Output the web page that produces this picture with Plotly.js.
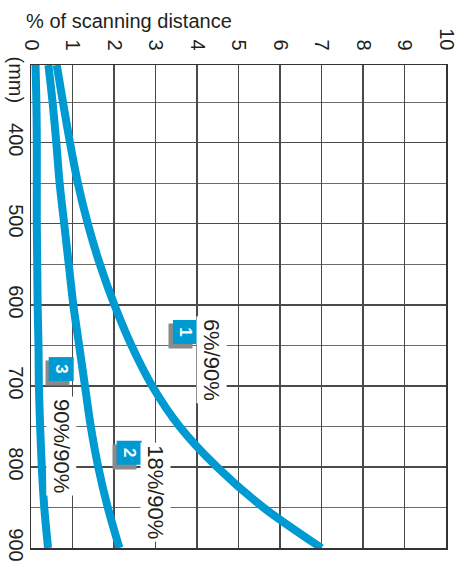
<!DOCTYPE html>
<html>
<head>
<meta charset="utf-8">
<script src="https://cdn.plot.ly/plotly-3.0.1.min.js"></script>
<style>html,body{margin:0;padding:0;background:#fff;}#chart{width:466px;height:571px;}</style>
</head>
<body>
<div id="chart"></div>
<script>
// Scanning distance (mm) on the vertical axis, % of scanning distance on the horizontal axis
var distanceMm = [304, 350, 400, 450, 500, 550, 600, 650, 700, 750, 800, 850, 900];
var curve1 = [0.62, 0.77, 0.94, 1.13, 1.37, 1.66, 2.01, 2.42, 2.92, 3.58, 4.48, 5.60, 7.00]; // 6%/90%
var curve2 = [0.42, 0.52, 0.61, 0.69, 0.80, 0.91, 1.02, 1.16, 1.30, 1.44, 1.62, 1.85, 2.13]; // 18%/90%
var curve3 = [0.11, 0.13, 0.14, 0.14, 0.14, 0.15, 0.16, 0.18, 0.19, 0.22, 0.26, 0.32, 0.41]; // 90%/90%
var seriesNames = ["6%/90%", "18%/90%", "90%/90%"];
var seriesNumbers = ["1", "2", "3"];
var xTickVals = [0, 1, 2, 3, 4, 5, 6, 7, 8, 9, 10];
var xTickText = ["0", "1", "2", "3", "4", "5", "6", "7", "8", "9", "10"];
var yTickVals = [400, 500, 600, 700, 800, 900];
var yTickText = ["400", "500", "600", "700", "800", "900"];

var BLUE = "#009ad2";
var TXT = "#231f20";
var FONT = "Liberation Sans, Arial, sans-serif";

function tr(xs, name) {
  return {
    x: xs, y: distanceMm, mode: "lines", name: name,
    line: {color: BLUE, width: 8, shape: "spline", smoothing: 0.8},
    hoverinfo: "skip"
  };
}
var data = [tr(curve1, seriesNames[0]), tr(curve2, seriesNames[1]), tr(curve3, seriesNames[2])];

// label placement (positions of legend boxes and texts)
var boxPos = [[3.71, 634], [2.36, 783], [0.73, 679]];
var textPos = [[4.34, 668], [3.01, 831], [0.72, 774]];

var ann = [];
for (var i = 0; i < 3; i++) {
  ann.push({x: boxPos[i][0], y: boxPos[i][1], xref: "x", yref: "y", text: " ", showarrow: false,
    width: 21, height: 22, bgcolor: "#8a8a8a", xshift: -4, yshift: -4, font: {size: 12}});
  ann.push({x: boxPos[i][0], y: boxPos[i][1], xref: "x", yref: "y", text: "<b>" + seriesNumbers[i] + "</b>",
    showarrow: false, width: 21, height: 22, bgcolor: BLUE, textangle: 90,
    font: {family: FONT, size: 17, color: "#ffffff"}});
  ann.push({x: textPos[i][0], y: textPos[i][1], xref: "x", yref: "y", text: seriesNames[i],
    showarrow: false, textangle: 90, bgcolor: "#ffffff", borderpad: 2,
    font: {family: FONT, size: 22, color: TXT}});
}
ann.push({x: -0.036, y: 322, xref: "paper", yref: "y", xanchor: "center", yanchor: "middle",
  text: "(mm)", showarrow: false, textangle: 90,
  font: {family: FONT, size: 20, color: TXT}});

var layout = {
  width: 466, height: 571,
  margin: {l: 31, r: 20, t: 65, b: 23, pad: 0},
  paper_bgcolor: "#ffffff", plot_bgcolor: "#ffffff",
  showlegend: false,
  font: {family: FONT, color: TXT, size: 20},
  title: {text: "% of scanning distance", xref: "container", yref: "container",
    x: 0.056, xanchor: "left", y: 0.963, yanchor: "middle",
    font: {family: FONT, size: 20, color: TXT}},
  xaxis: {
    side: "top", range: [0, 10], tickmode: "array", tickvals: xTickVals, ticktext: xTickText,
    tickangle: 90, ticks: "", ticklabelstandoff: 6,
    showgrid: true, gridcolor: "#4a4a4a", gridwidth: 1.3, zeroline: false,
    showline: true, linecolor: "#333", linewidth: 1.5, mirror: true,
    tickfont: {family: FONT, size: 20, color: TXT}
  },
  yaxis: {
    range: [900, 304], tickmode: "array", tickvals: yTickVals, ticktext: yTickText,
    tickangle: 90, ticks: "", ticklabelstandoff: -3,
    showgrid: true, gridcolor: "#4a4a4a", gridwidth: 1.3, zeroline: false,
    minor: {dtick: 50, tick0: 300, showgrid: true, gridcolor: "#6a6a6a", gridwidth: 1.3},
    showline: true, linecolor: "#333", linewidth: 1.5, mirror: true,
    tickfont: {family: FONT, size: 20, color: TXT}
  },
  annotations: ann
};

Plotly.newPlot("chart", data, layout, {staticPlot: true, displayModeBar: false});
</script>
</body>
</html>
